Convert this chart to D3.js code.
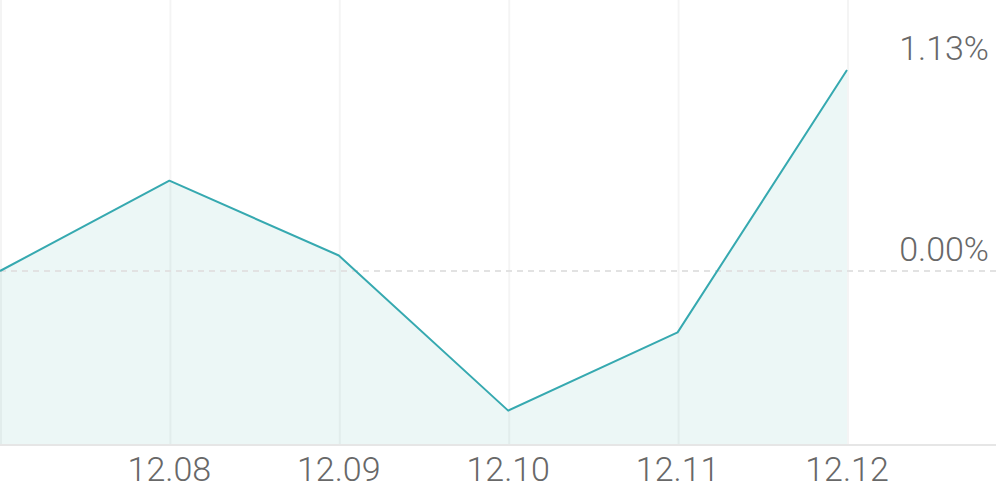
<!DOCTYPE html>
<html>
<head>
<meta charset="utf-8">
<script src="https://cdn.jsdelivr.net/npm/d3@7"></script>
<style>
  html, body { margin: 0; padding: 0; background: #fff; }
  svg text { font-family: Roboto, "Noto Sans", sans-serif; font-weight: 300; fill: #686868; }
</style>
</head>
<body>
<div id="chart"></div>
<script>
const width = 996;
const height = 490;

// data
const dates = ['12.07', '12.08', '12.09', '12.10', '12.11', '12.12'];
const changes = [0, 0.508, 0.087, -0.785, -0.345, 1.13];
const yTicks = [0, 1.13];

const plotBottom = 445;

const x = d3.scalePoint()
  .domain(dates)
  .range([0, 847]);

const y = d3.scaleLinear()
  .domain([0, 1.13])
  .range([271, 70]);

const svg = d3.select('#chart')
  .append('svg')
  .attr('width', width)
  .attr('height', height);

// vertical grid
svg.append('g')
  .selectAll('line')
  .data(dates)
  .enter()
  .append('line')
  .attr('x1', (d) => x(d) + 1)
  .attr('x2', (d) => x(d) + 1)
  .attr('y1', 0)
  .attr('y2', plotBottom)
  .attr('stroke', 'rgba(0,0,0,0.045)')
  .attr('stroke-width', 2);

const pts = dates.map((d, i) => ({ date: d, v: changes[i] }));

// area fill
const area = d3.area()
  .x((d) => x(d.date))
  .y0(plotBottom)
  .y1((d) => y(d.v));

svg.append('path')
  .datum(pts)
  .attr('d', area)
  .attr('fill', 'rgba(54,169,160,0.095)');

// zero line
svg.append('line')
  .attr('x1', 0)
  .attr('x2', width)
  .attr('y1', y(0))
  .attr('y2', y(0))
  .attr('stroke', '#e2e2e2')
  .attr('stroke-width', 2)
  .attr('stroke-dasharray', '6,5');

// baseline
svg.append('line')
  .attr('x1', 0)
  .attr('x2', width)
  .attr('y1', plotBottom)
  .attr('y2', plotBottom)
  .attr('stroke', '#e6e6e6')
  .attr('stroke-width', 2);

// line
const line = d3.line()
  .x((d) => x(d.date))
  .y((d) => y(d.v));

svg.append('path')
  .datum(pts)
  .attr('d', line)
  .attr('fill', 'none')
  .attr('stroke', '#36a9b0')
  .attr('stroke-width', 2)
  .attr('stroke-linejoin', 'round');

// y labels
svg.append('g')
  .selectAll('text')
  .data(yTicks)
  .enter()
  .append('text')
  .attr('x', 989)
  .attr('y', (d) => y(d) - 10)
  .attr('text-anchor', 'end')
  .attr('font-size', 34)
  .text((d) => d.toFixed(2) + '%');

// x labels (first date sits on the edge and is not labelled)
svg.append('g')
  .selectAll('text')
  .data(dates.slice(1))
  .enter()
  .append('text')
  .attr('x', (d) => x(d))
  .attr('y', 481)
  .attr('text-anchor', 'middle')
  .attr('font-size', 34)
  .text((d) => d);
</script>
</body>
</html>
